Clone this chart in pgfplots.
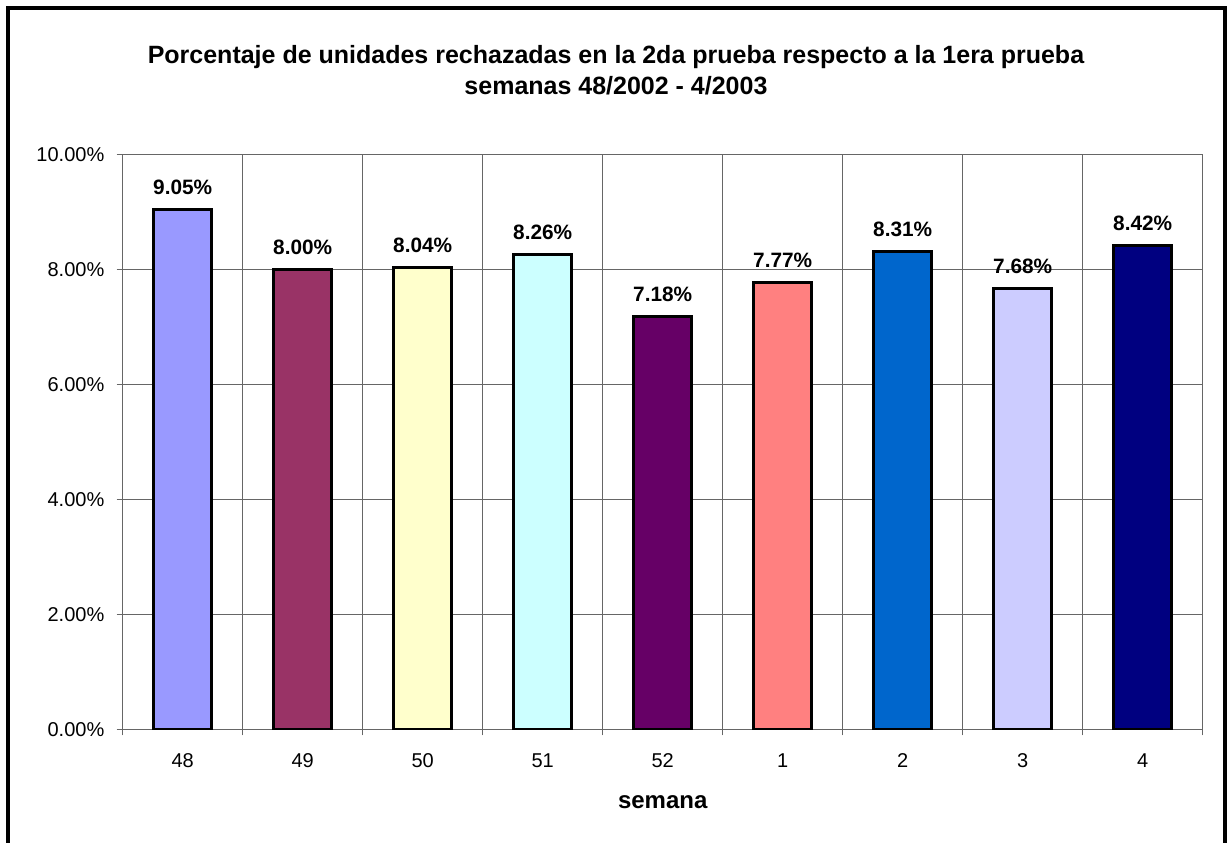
\documentclass[border=0pt]{standalone}
\usepackage{pgfplots}
\pgfplotsset{compat=1.18}
\usepackage{fontspec}
\setmainfont{Liberation Sans}

% Bar fills, one per week
\definecolor{cA}{HTML}{9999FF}
\definecolor{cB}{HTML}{993366}
\definecolor{cC}{HTML}{FFFFCC}
\definecolor{cD}{HTML}{CCFFFF}
\definecolor{cE}{HTML}{660066}
\definecolor{cF}{HTML}{FF8080}
\definecolor{cG}{HTML}{0066CC}
\definecolor{cH}{HTML}{CCCCFF}
\definecolor{cI}{HTML}{000080}
\colorlet{gridc}{black!60}

\begin{document}
\begin{tikzpicture}
\useasboundingbox (-61.35pt,-56.35pt) rectangle (552.65pt,364.65pt);
% chart frame (open at the bottom)
\draw[line width=2pt] (-57.35pt,-60pt) -- (-57.35pt,360.65pt) -- (551pt,360.65pt) -- (551pt,-60pt);

\begin{axis}[
  at={(0pt,0pt)}, anchor=south west,
  scale only axis, width=540pt, height=287.3pt,
  xmin=0.5, xmax=9.5, ymin=0, ymax=10,
  ybar, bar shift=0pt, bar width=29.3pt,
  axis line style={gridc, line width=0.5pt},
  tick align=outside, tick pos=left, major tick length=3pt,
  tick style={gridc, line width=0.5pt},
  grid style={gridc, line width=0.5pt},
  xtick={0.5,1.5,...,9.5}, xticklabels={}, xmajorgrids=true,
  extra x ticks={1,2,3,4,5,6,7,8,9},
  extra x tick labels={48,49,50,51,52,1,2,3,4},
  extra x tick style={major tick length=0pt, xmajorgrids=false},
  ytick={0,2,4,6,8,10},
  yticklabels={0.00\%,2.00\%,4.00\%,6.00\%,8.00\%,10.00\%},
  ymajorgrids=true,
  ticklabel style={font=\fontsize{10}{12}\selectfont},
  xticklabel style={anchor=base, yshift=-19pt},
  yticklabel style={anchor=east, inner sep=0pt, xshift=-6pt},
  /pgf/number format/assume math mode=true,
  every axis plot/.append style={draw=black, line width=1.5pt},
  nodes near coords={\pgfmathprintnumber[fixed,fixed zerofill,precision=2]{\pgfplotspointmeta}\%},
  every node near coord/.append style={font=\bfseries\fontsize{10.4}{12}\selectfont, text=black, anchor=base, yshift=7.5pt},
]
\addplot[fill=cA] coordinates {(1,9.05)};
\addplot[fill=cB] coordinates {(2,8.00)};
\addplot[fill=cC] coordinates {(3,8.04)};
\addplot[fill=cD] coordinates {(4,8.26)};
\addplot[fill=cE] coordinates {(5,7.18)};
\addplot[fill=cF] coordinates {(6,7.77)};
\addplot[fill=cG] coordinates {(7,8.31)};
\addplot[fill=cH] coordinates {(8,7.68)};
\addplot[fill=cI] coordinates {(9,8.42)};
\end{axis}

\node[anchor=base, font=\bfseries\fontsize{12.5}{15}\selectfont] at (246.65pt,332.65pt)
  {Porcentaje de unidades rechazadas en la 2da prueba respecto a la 1era prueba};
\node[anchor=base, font=\bfseries\fontsize{12.5}{15}\selectfont] at (246.65pt,317.15pt)
  {semanas 48/2002 - 4/2003};
\node[anchor=base, font=\bfseries\fontsize{12}{14}\selectfont] at (270pt,-39.35pt) {semana};
\end{tikzpicture}
\end{document}
